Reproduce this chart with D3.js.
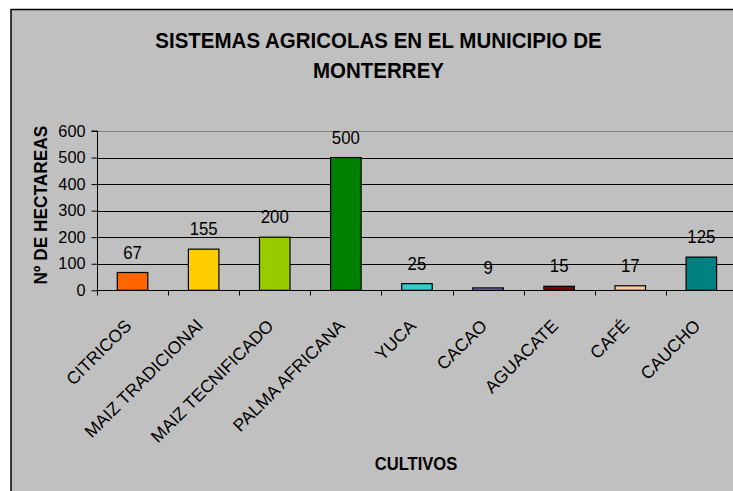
<!DOCTYPE html>
<html><head><meta charset="utf-8">
<script src="https://cdn.jsdelivr.net/npm/d3@7"></script>
<style>
html,body{margin:0;padding:0;background:#fff;overflow:hidden;}
svg{display:block;font-family:"Liberation Sans",Arial,sans-serif;}
</style></head>
<body>
<svg id="chart" width="733" height="491"></svg>
<script>
const categories = ["CITRICOS","MAIZ TRADICIONAl","MAIZ TECNIFICADO","PALMA AFRICANA","YUCA","CACAO","AGUACATE","CAFÉ","CAUCHO"];
const values = [67,155,200,500,25,9,15,17,125];
const colors = ["#FF6600","#FFCC00","#99CC00","#008000","#33CCCC","#7F7FD0","#800000","#FFCC99","#008080"];
const yTicks = [0,100,200,300,400,500,600];
const titleLines = ["SISTEMAS AGRICOLAS EN EL MUNICIPIO DE","MONTERREY"];
const yTitle = "Nº DE HECTAREAS";
const xTitle = "CULTIVOS";

const svg = d3.select("#chart");
const font = '"Liberation Sans",Arial,sans-serif';

// frame
svg.append("rect").attr("x",11).attr("y",9.5).attr("width",760).attr("height",520)
  .attr("fill","#C0C0C0").attr("stroke","#000").attr("stroke-width",1.5);

const left = 97, band = 71.1;
const x = d3.scaleBand().domain(categories).range([left, left + band*categories.length]).paddingInner(0).paddingOuter(0);
const y = d3.scaleLinear().domain([0,600]).range([290.3,131]);

// gridlines
svg.append("g").selectAll("line").data(yTicks.filter(t=>t>0)).join("line")
  .attr("x1",left).attr("x2",x.range()[1])
  .attr("y1",d=>Math.round(y(d))+0.5).attr("y2",d=>Math.round(y(d))+0.5)
  .attr("stroke",d=>d===600?"#808080":"#000").attr("stroke-width",1);

// bars
const bw = 30.5;
svg.append("g").selectAll("rect").data(categories).join("rect")
  .attr("x",(d)=>x(d)+x.bandwidth()/2-bw/2)
  .attr("y",(d,i)=>y(values[i]))
  .attr("width",bw)
  .attr("height",(d,i)=>y(0)-y(values[i]))
  .attr("fill",(d,i)=>colors[i])
  .attr("stroke","#000").attr("stroke-width",1.2);

// value labels
svg.append("g").selectAll("text").data(categories).join("text")
  .attr("transform",(d,i)=>`translate(${x(d)+x.bandwidth()/2},${y(values[i])-14}) scale(1,1.1)`)
  .attr("text-anchor","middle").attr("font-size",16.8).attr("fill","#000")
  .text((d,i)=>values[i]);

// y axis
const yAxis = d3.axisLeft(y).tickValues(yTicks).tickSize(6).tickPadding(6);
const gy = svg.append("g").attr("transform",`translate(${left+0.5},0)`).call(yAxis);
gy.select(".domain").attr("stroke","#000").attr("d",`M-6,${y(600)}H0V${y(0)}`);
gy.selectAll(".tick line").attr("stroke","#000");
gy.selectAll(".tick text").attr("font-size",16.3).attr("font-family",font).attr("fill","#000");

// x axis
const xAxis = d3.axisBottom(x).tickSize(0).tickFormat("");
const gx = svg.append("g").attr("transform",`translate(0,${Math.round(y(0))+0.5})`).call(xAxis);
gx.select(".domain").attr("stroke","#000").attr("stroke-width",1.2).attr("d",`M${left},0H${x.range()[1]}`);
// boundary ticks
const bounds = categories.map(c=>x(c)).concat([x.range()[1]]);
gx.append("g").selectAll("line").data(bounds).join("line")
  .attr("x1",d=>Math.round(d)+0.5).attr("x2",d=>Math.round(d)+0.5).attr("y1",0).attr("y2",5)
  .attr("stroke","#000");

// x labels rotated
svg.append("g").selectAll("text").data(categories).join("text")
  .attr("transform",d=>`translate(${x(d)+x.bandwidth()/2},327) rotate(-45)`)
  .attr("text-anchor","end").attr("font-size",17.5).attr("fill","#000")
  .text(d=>d);

// title
svg.append("g").selectAll("text").data(titleLines).join("text")
  .attr("transform",(d,i)=>`translate(378.5,${48.3+i*30}) scale(1,1.09)`)
  .attr("text-anchor","middle").attr("font-size",20.5).attr("font-weight","bold").attr("fill","#000")
  .text(d=>d);

// y title
svg.append("text").attr("transform","translate(46.7,205) rotate(-90) scale(1,1.07)")
  .attr("text-anchor","middle").attr("font-size",17.3).attr("font-weight","bold").attr("fill","#000")
  .text(yTitle);

// x title
svg.append("text").attr("transform","translate(416,470) scale(1,1.1)")
  .attr("text-anchor","middle").attr("font-size",16.6).attr("font-weight","bold").attr("fill","#000")
  .text(xTitle);
</script>
</body></html>
